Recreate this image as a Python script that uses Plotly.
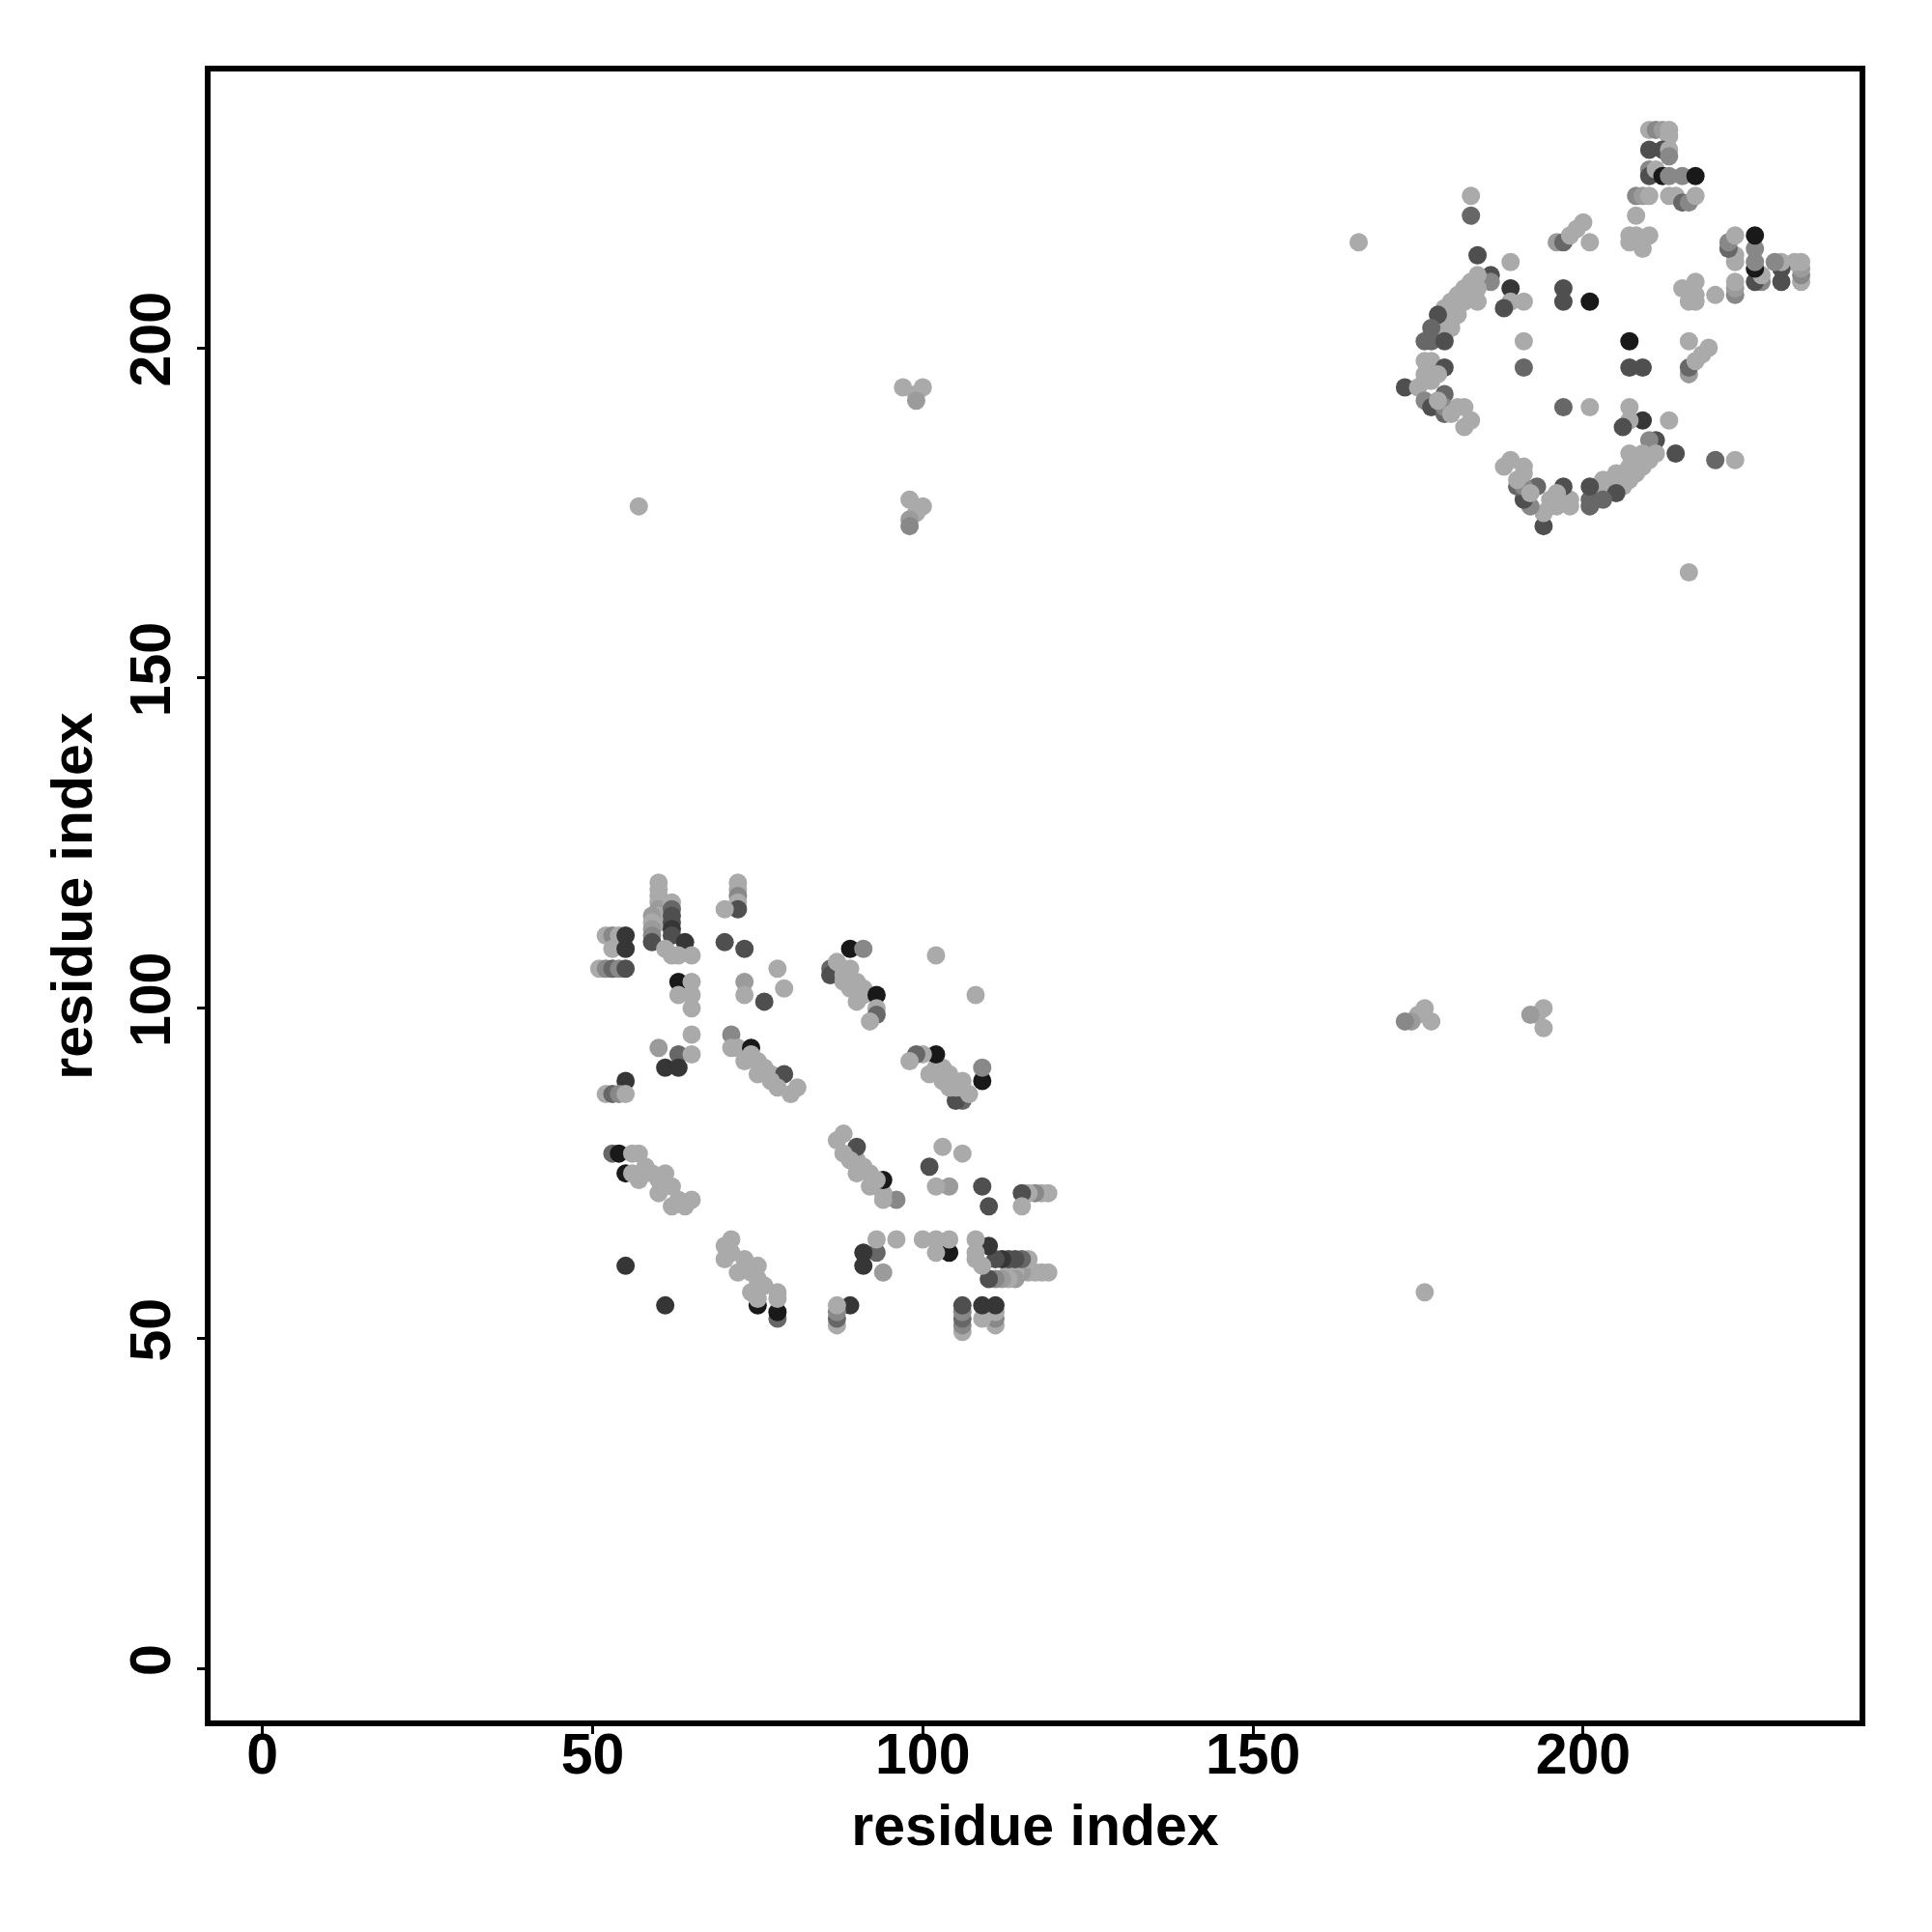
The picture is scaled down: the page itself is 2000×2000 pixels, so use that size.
import plotly.graph_objects as go

# contact score levels (0 = weak/light, 1 = strong/dark)
L, L2, M, M2, D, D2, K = 0.0, 0.1, 0.23, 0.45, 0.61, 0.77, 0.97

# contacts (residue_i, residue_j, score), upper triangle only; the map is symmetric
cluster_low = [
    (60,119,L),(60,118,L),(60,117,L),(60,116,L),(60,115,L2),(60,114,L),(60,113,L),
    (59,114,L2),(59,113,L),(59,112,L2),(59,111,M),(59,110,D),
    (62,116,L),(62,115,M2),(62,114,D),(62,113,D),(62,112,D2),(62,111,D),
    (64,110,D2),(61,109,L),(62,108,L),(63,108,L),(65,108,L),
    (52,111,L),(53,111,M),(54,111,L),(55,111,D2),
    (53,109,L),(55,109,D2),
    (51,106,L),(52,106,M),(53,106,M2),(54,106,M),(55,106,D),
    (63,104,K),(65,104,L),(63,102,L),(65,102,L),(65,100,L),
    (72,119,L),(72,118,L),(72,117,M),(72,116,L),(72,115,D),(70,115,L),
    (70,110,D),(73,109,D),
    (78,106,L),(79,103,L),(73,104,L2),(73,102,L),(76,101,D),
    (65,96,L),(60,94,L2),(63,93,M2),(65,93,L),(61,91,D2),(63,91,D2),
    (55,89,D2),(52,87,L),(53,87,M2),(54,87,M),(55,87,L),
    (71,96,M),(71,94,L),(72,94,L),(74,94,K),(73,92,L),(74,93,L),(75,92,L),
    (76,91,L),(75,90,L),(77,90,L),(79,90,D),(78,88,L),(81,88,L),(80,87,L),(77,89,L),
    (89,109,K),(91,109,M),(86,106,M2),(86,105,D),(87,107,L),(88,106,L),(89,106,L),
    (88,105,L),(88,104,L),(90,104,L),(89,103,L),(91,103,L),(91,102,L),(90,101,L),
    (93,102,K),(93,100,L),(93,99,M2),(92,98,L),(102,108,L),
    (53,78,M2),(54,78,K),(56,78,L),(57,78,L),(55,75,K),(56,75,L),(57,74,L),
    (58,76,L),(58,75,L),(59,75,L),(61,75,L),(60,72,L),(60,74,L),(62,73,L),
    (63,71,L),(65,71,L),(62,70,L),(64,70,L),
    (55,61,D2),
]

cluster_high = [
    (166,216,L),
    (183,223,L),(183,220,M2),(184,214,D),(189,213,L),(186,211,D),(186,210,M),
    (184,211,L),(189,209,D2),(191,207,L),(189,207,L),(188,206,D),(197,209,D),
    (197,207,D),(201,207,K),(191,201,L),
    (183,210,L),(182,209,L),(184,209,L),(181,208,L),(183,208,L),(180,207,L),
    (182,207,L),(184,207,L),(179,206,L),(181,206,L),(180,205,L),(181,205,L),
    (179,204,L),(180,204,L),(178,203,L),(180,203,L),(177,202,L),(179,202,L),
    (178,205,D),(177,203,M2),(176,201,M2),(177,201,M2),(179,201,D),
    (196,216,L2),(197,216,M2),(198,217,L),(199,218,L),(200,219,L),(201,216,L),
    (210,233,L),(211,233,M),(212,233,L2),(213,233,L),(213,232,L),(210,230,D),
    (212,230,D),(213,230,L),(213,229,M),(210,227,M),(210,226,D),(211,227,L),
    (212,226,K),(213,226,M),(215,226,M),(217,226,K),
    (208,223,M),(209,223,L2),(210,223,L),(213,223,L),(214,223,L),(215,222,M2),
    (216,222,M),(217,223,L),
    (208,220,L),(207,217,L),(208,217,L),(210,217,L),(209,215,L),(207,216,L),
    (191,197,M2),(176,198,L),(177,198,L),(179,197,D),(176,196,L),(173,194,D),
    (175,194,L),(176,195,L),(179,193,M2),(176,192,M),(177,191,D),(179,190,M2),
    (179,191,M),(181,191,L),(182,191,L),(182,188,L),(183,189,L),(180,190,L),
    (178,196,L),(177,195,L),(178,192,L),
]

isolated = [
    (57,176,L),(97,194,L),(100,194,L),(99,193,L),(99,192,L2),
    (98,177,L),(100,176,L),(99,175,L),(98,174,L2),(98,173,M),
]

tick_values = [0, 50, 100, 150, 200]
axis_limits = (1, 233)
axis_title = "residue index"

xs, ys, cs = [], [], []
for group in (cluster_low, cluster_high, isolated):
    for i, j, p in group:
        xs += [j, i]
        ys += [i, j]
        cs += [p, p]

pad = 0.04 * (axis_limits[1] - axis_limits[0])
rng = [axis_limits[0] - pad, axis_limits[1] + pad]

fig = go.Figure(go.Scatter(
    x=xs, y=ys, mode="markers",
    marker=dict(size=19, color=cs, cmin=0, cmax=1,
                colorscale=[[0, "rgb(170,170,170)"], [1, "rgb(20,20,20)"]],
                line=dict(width=0)),
    hoverinfo="x+y",
))

font = dict(family="Liberation Sans, Arial, sans-serif", size=59, color="black", weight="bold")
axis_common = dict(
    range=rng, tickvals=tick_values, ticks="outside", ticklen=10, tickwidth=3,
    tickcolor="black", showline=False, showgrid=False, zeroline=False, tickfont=font,
)
fig.update_xaxes(**axis_common, ticklabelstandoff=-30,
                 title=dict(text=axis_title, font=font, standoff=20))
fig.update_yaxes(**axis_common, tickangle=-90, ticklabelstandoff=4,
                 title=dict(text=axis_title, font=font, standoff=8))
fig.add_shape(type="rect", xref="paper", yref="paper", x0=0, x1=1, y0=0, y1=1,
              line=dict(color="black", width=6), layer="above")
fig.update_layout(
    width=2000, height=2000,
    margin=dict(l=215, r=72, t=71, b=216),
    plot_bgcolor="white", paper_bgcolor="white",
    showlegend=False,
)
fig.write_html("out.html", config={"displayModeBar": False},
               post_script="document.body.style.margin='0';")
